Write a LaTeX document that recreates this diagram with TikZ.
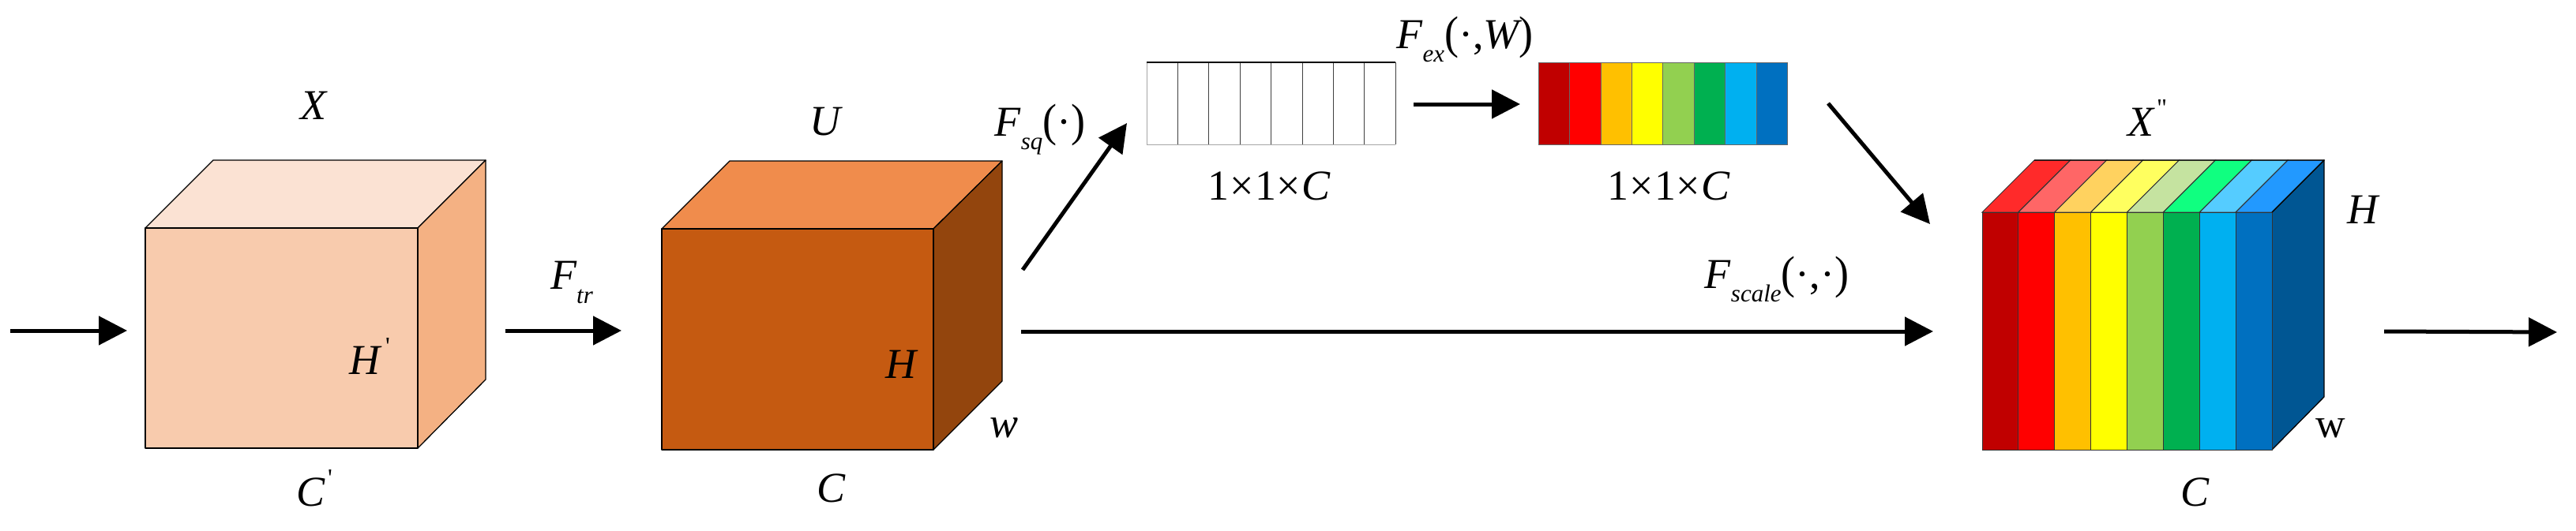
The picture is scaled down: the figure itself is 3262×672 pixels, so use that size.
\documentclass[tikz,border=0pt]{standalone}
\usepackage{fontspec}
\usepackage{graphicx}
\setmainfont{Liberation Serif}
\newfontfamily\tickfont{Liberation Serif}
\usetikzlibrary{arrows.meta}
\definecolor{aF}{HTML}{F8CBAD}\definecolor{aT}{HTML}{FBE2D3}\definecolor{aS}{HTML}{F4B183}
\definecolor{bF}{HTML}{C55A11}\definecolor{bT}{HTML}{F08C4C}\definecolor{bS}{HTML}{93450D}
\definecolor{c1}{HTML}{C00000}\definecolor{c2}{HTML}{FF0000}\definecolor{c3}{HTML}{FFC000}\definecolor{c4}{HTML}{FFFF00}
\definecolor{c5}{HTML}{92D050}\definecolor{c6}{HTML}{00B050}\definecolor{c7}{HTML}{00B0F0}\definecolor{c8}{HTML}{0070C0}
\definecolor{t1}{HTML}{FF2A2A}\definecolor{t2}{HTML}{FF6666}\definecolor{t3}{HTML}{FFD25F}\definecolor{t4}{HTML}{FFFF5F}
\definecolor{t5}{HTML}{C5E3A0}\definecolor{t6}{HTML}{10FF80}\definecolor{t7}{HTML}{55CCFF}\definecolor{t8}{HTML}{2299FF}
\definecolor{cS}{HTML}{005693}
\newcommand{\lowsub}[1]{\raisebox{-0.32em}{\fontsize{31}{31}\selectfont\itshape #1}}
\newcommand{\tick}[2]{\kern#1pt\raisebox{0.46em}{\fontsize{32}{32}\tickfont\upshape #2}}
\newcommand{\tallparen}[1]{\scalebox{1}[1.08]{\upshape #1}}
\tikzset{
  x=1pt,y=-1pt,
  lab/.style={inner sep=0pt,font=\fontsize{54}{60}\selectfont\itshape,text=black},
  edgeline/.style={draw=black,line width=1.3pt,line join=round},
  arr/.style={line width=5pt,-{Triangle[length=36pt,width=36pt]}}
}
\begin{document}
\begin{tikzpicture}
\useasboundingbox[fill=white] (0,0) rectangle (3262,672);
% cube X
\coordinate (af1) at (184,289);\coordinate (af2) at (529,289);\coordinate (af3) at (529,568);\coordinate (af4) at (184,568);
\coordinate (ab1) at (270,203);\coordinate (ab2) at (615,203);\coordinate (ab3) at (615,481);
\filldraw[edgeline,fill=aT] (af1)--(ab1)--(ab2)--(af2)--cycle;
\filldraw[edgeline,fill=aS] (af2)--(ab2)--(ab3)--(af3)--cycle;
\filldraw[edgeline,fill=aF] (af1)--(af2)--(af3)--(af4)--cycle;
% cube U
\coordinate (bf1) at (838,290);\coordinate (bf2) at (1182,290);\coordinate (bf3) at (1182,570);\coordinate (bf4) at (838,570);
\coordinate (bb1) at (924,204);\coordinate (bb2) at (1269,204);\coordinate (bb3) at (1269,483);
\filldraw[edgeline,fill=bT] (bf1)--(bb1)--(bb2)--(bf2)--cycle;
\filldraw[edgeline,fill=bS] (bf2)--(bb2)--(bb3)--(bf3)--cycle;
\filldraw[edgeline,fill=bF] (bf1)--(bf2)--(bf3)--(bf4)--cycle;
% white strip
\draw[line width=.8pt,draw=black!35] (1452,79)--(1452,183)--(1767,183);
\foreach \i in {1,...,8}{
  \draw[line width=.9pt,draw=black!75] ({1452+\i*39.4},79)--({1452+\i*39.4},183);
}
\draw[line width=1.3pt,draw=black] (1452,79)--(1767,79);
% coloured strip
\foreach \i [count=\n from 1] in {0,...,7}{
  \filldraw[line width=.8pt,draw=black!60,fill=c\n] ({1948+\i*39.45},79) rectangle ({1948+(\i+1)*39.45},183);
}
% rainbow block
\coordinate (cb3) at (2943,503);
\filldraw[edgeline,fill=cS] (2877,269)--(2943,203)--(cb3)--(2877,570)--cycle;
\foreach \i [count=\n from 1] in {0,...,7}{
  \filldraw[line width=1pt,draw=black!80,fill=t\n] ({2510+\i*45.875},269) -- ({2576+\i*45.875},203) -- ({2576+(\i+1)*45.875},203) -- ({2510+(\i+1)*45.875},269) -- cycle;
  \filldraw[line width=1pt,draw=black!80,fill=c\n] ({2510+\i*45.875},269) rectangle ({2510+(\i+1)*45.875},570);
}
\draw[edgeline] (2576,203)--(2943,203)--(2877,269);
% labels
\node[lab] (lX) at (397,134) {X};
\node[lab,anchor=base west] (lHp) at (442,474) {H\tick{7}{'}};
\node[lab,anchor=base west] (lCp) at (375,641) {C\tick{4}{'}};
\node[lab] (lFtr) at (724,358) {F\lowsub{tr}};
\node[lab] (lU) at (1045,154) {U};
\node[lab] (lFsq) at (1317,164) {F\lowsub{sq}\tallparen{(}{\upshape·}\tallparen{)}};
\node[lab] (lH) at (1141,462) {H};
\node[lab] (lw) at (1271,542) {w};
\node[lab] (lC) at (1052,619) {C};
\node[lab] (lFex) at (1855,50) {F\lowsub{ex}\tallparen{(}{\upshape·,}W\tallparen{)}};
\node[lab] (ldimA) at (1607,236) {\upshape 1\kern1pt×\kern1pt1\kern1pt×\kern1pt\itshape C};
\node[lab] (ldimB) at (2113,236) {\upshape 1\kern1pt×\kern1pt1\kern1pt×\kern1pt\itshape C};
\node[lab] (lFsc) at (2250,354) {F\lowsub{scale}\tallparen{(}\upshape·,·\tallparen{)}};
\node[lab,anchor=base west] (lXpp) at (2694,172) {X\tick{4}{"}};
\node[lab] (lH2) at (2992,266) {H};
\node[lab,font=\fontsize{52}{54}\selectfont\upshape] (lw2) at (2951,543) {w};
\node[lab] (lC2) at (2779,624) {C};
% connector ends
\coordinate (inS) at (13,419);\coordinate (inE) at (161,419);
\coordinate (trS) at (640,419);\coordinate (trE) at (787,419);
\coordinate (sqS) at (1295,342);\coordinate (sqE) at (1427,156);
\coordinate (exS) at (1790,132);\coordinate (exE) at (1925,132);
\coordinate (toS) at (2315,131);\coordinate (toE) at (2444,284);
\coordinate (scS) at (1293,420);\coordinate (scE) at (2448,420);
\coordinate (outS) at (3019,420);\coordinate (outE) at (3238,421);
\foreach \a/\b in {inS/inE,trS/trE,sqS/sqE,exS/exE,toS/toE,scS/scE,outS/outE}
  \draw[arr] (\a)--(\b);
\end{tikzpicture}
\end{document}
